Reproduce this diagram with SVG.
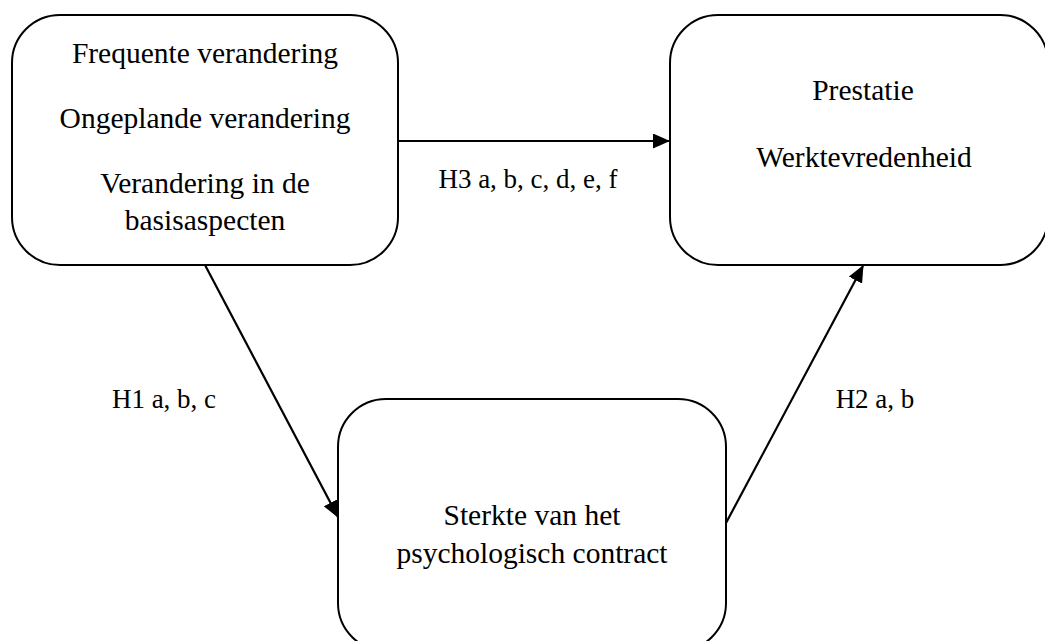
<svg xmlns="http://www.w3.org/2000/svg" width="1045" height="641" viewBox="0 0 1045 641">
<style>
.box{fill:#fff;stroke:#000;stroke-width:2}
.t{font-family:"Liberation Serif","Times New Roman",serif;font-size:29.5px;fill:#000;text-anchor:middle}
.l{font-family:"Liberation Serif","Times New Roman",serif;font-size:27px;fill:#000;text-anchor:middle}
.c{stroke:#000;stroke-width:2.2;fill:none;marker-end:url(#ah)}
</style>
<defs>
<marker id="ah" markerWidth="17" markerHeight="15" refX="16" refY="7.5" orient="auto" markerUnits="userSpaceOnUse">
<path d="M0,0 L17,7.5 L0,15 Z" fill="#000"/>
</marker>
</defs>
<rect width="1045" height="641" fill="#fff"/>
<g id="node-verandering">
<rect class="box" x="12" y="15" width="386" height="250" rx="48" ry="48"/>
<text class="t" x="205" y="63">Frequente verandering</text>
<text class="t" x="205" y="128">Ongeplande verandering</text>
<text class="t" x="205" y="193">Verandering in de</text>
<text class="t" x="205" y="230">basisaspecten</text>
</g>
<g id="node-prestatie">
<rect class="box" x="670" y="15" width="378" height="250" rx="48" ry="48"/>
<text class="t" x="863" y="100">Prestatie</text>
<text class="t" x="864" y="167">Werktevredenheid</text>
</g>
<g id="node-contract">
<rect class="box" x="338" y="399" width="388" height="252" rx="48" ry="48"/>
<text class="t" x="532" y="525">Sterkte van het</text>
<text class="t" x="532" y="563">psychologisch contract</text>
</g>
<g id="connectors">
<line class="c" x1="398" y1="141" x2="669" y2="141"/>
<line class="c" x1="205" y1="265" x2="338" y2="517"/>
<line class="c" x1="726" y1="523" x2="863" y2="266"/>
<text class="l" x="528" y="188">H3 a, b, c, d, e, f</text>
<text class="l" x="164" y="408">H1 a, b, c</text>
<text class="l" x="875" y="408">H2 a, b</text>
</g>
</svg>
